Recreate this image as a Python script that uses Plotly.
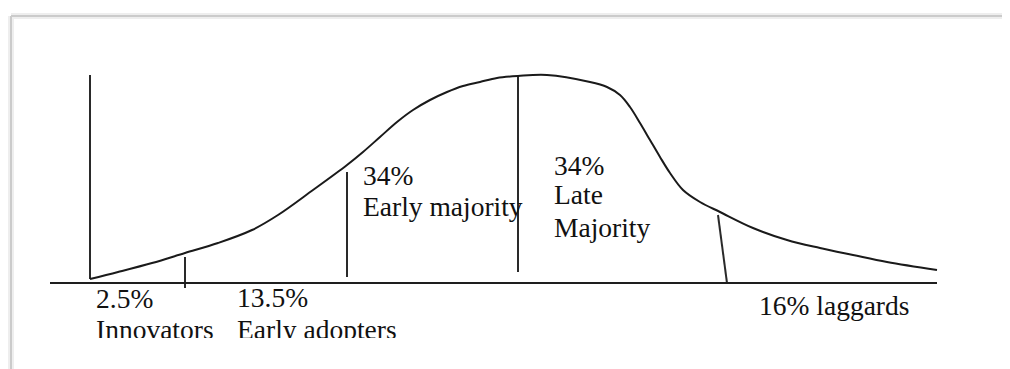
import plotly.graph_objects as go

# adoption curve (x along the axis, y height above baseline)
curve_x = [0, 28, 62, 95, 128, 162, 188, 223, 257, 273, 290, 307, 323, 340, 357,
           373, 390, 407, 428, 457, 500, 517, 530, 540, 550, 560, 570, 580, 593,
           610, 630, 663, 697, 730, 763, 797, 847]
curve_y = [4, 11, 20, 30, 40, 53, 68, 93, 118, 131, 146, 161, 173, 183, 191,
           197, 201, 205, 207, 208, 201, 196, 188, 176, 160, 143, 126, 110, 93,
           81, 71, 55, 43, 35, 28, 21, 13]

# baseline
base_x = [-40, 847]
base_y = [0, 0]

# dividers between the groups: (x bottom, y bottom, x top, y top)
div_x0 = [0, 95, 257, 428, 637]
div_y0 = [4, -5, 6, 11, 0]
div_x1 = [0, 95, 257, 428, 628]
div_y1 = [208, 26, 111, 208, 68]

# labels
label_text = ["2.5%", "Innovators", "13.5%", "Early adopters", "34%", "Early majority",
              "34%", "Late", "Majority", "16% laggards"]
label_x = [6, 6, 147, 147, 273, 273, 464, 464, 464, 669]
label_y = [-18, -49, -17, -49, 105, 74, 115, 86, 53, -25]

fig = go.Figure()

for x0, y0, x1, y1 in zip(div_x0, div_y0, div_x1, div_y1):
    fig.add_scatter(x=[x0, x1], y=[y0, y1], mode='lines',
                    line=dict(color='#2a2a2a', width=2), hoverinfo='skip')

fig.add_scatter(x=base_x, y=base_y, mode='lines',
                line=dict(color='#1e1e1e', width=2), hoverinfo='skip')

fig.add_scatter(x=curve_x, y=curve_y, mode='lines',
                line=dict(color='#1a1a1a', width=2, shape='spline', smoothing=1.0),
                hoverinfo='skip')

fig.add_scatter(x=label_x, y=label_y, mode='text', text=label_text,
                textposition='middle right', marker=dict(size=1),
                textfont=dict(family='Liberation Serif', size=27.5, color='#111111'),
                cliponaxis=True, hoverinfo='skip')

# page frame with a soft shadow (page body has an 8px margin)
fx = 3 / 1010
fy = (330 - 8) / 330
for w, c in [(6, '#eeeeee'), (2, '#cbcbcb')]:
    fig.add_shape(type='line', xref='paper', yref='paper', x0=fx, y0=fy, x1=1.05, y1=fy,
                  line=dict(color=c, width=w))
    fig.add_shape(type='line', xref='paper', yref='paper', x0=fx, y0=fy, x1=fx, y1=-0.2,
                  line=dict(color=c, width=w))

fig.update_xaxes(range=[-82, 928], visible=False)
fig.update_yaxes(range=[-55, 275], visible=False)
fig.update_layout(width=1010, height=369, margin=dict(l=0, r=0, t=0, b=39),
                  showlegend=False, plot_bgcolor='white', paper_bgcolor='white')

fig.write_html("out.html")
